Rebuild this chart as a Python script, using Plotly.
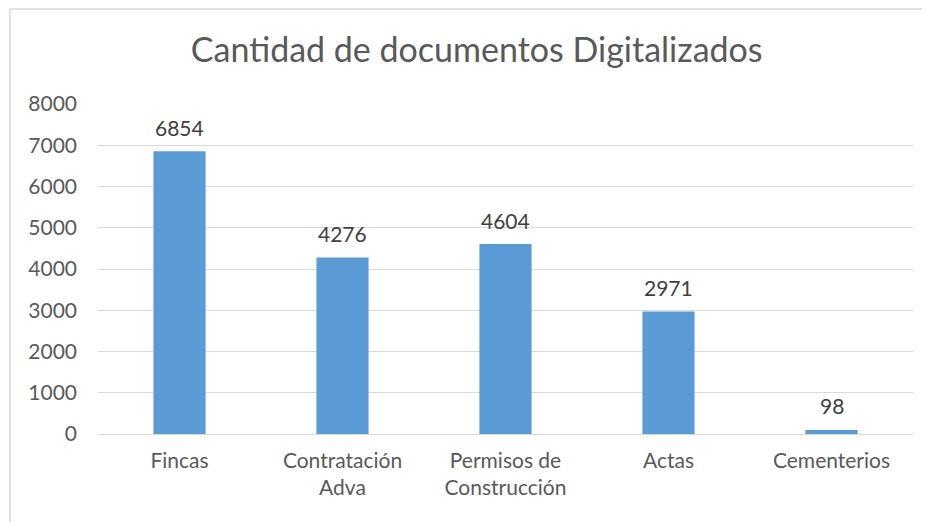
import plotly.graph_objects as go

categories = ["Fincas", "Contratación<br>Adva", "Permisos de<br>Construcción", "Actas", "Cementerios"]
values = [6854, 4276, 4604, 2971, 98]
y_ticks = [0, 1000, 2000, 3000, 4000, 5000, 6000, 7000, 8000]

# page body has an 8px margin, so the figure is drawn offset by (8, 8)
W, H = 930, 522
L, R, T, B = 90, 25, 96, 96
pw, ph = W - L - R, H - T - B

fig = go.Figure(go.Bar(
    x=categories, y=values,
    marker=dict(color="#5b9bd5", line=dict(width=0)),
    hoverinfo="x+y",
))

for c, v in zip(categories, values):
    fig.add_annotation(x=c, y=v, text=str(v), showarrow=False, yanchor="middle",
                       yshift=24, font=dict(size=21, color="#404040", family="Lato"))

bx0 = (2 - L) / pw
bx1 = (W + 40 - L) / pw
by0 = -(H + 40 - T - ph) / ph
by1 = (T + ph - 1) / ph

fig.update_layout(
    width=W, height=H,
    margin=dict(l=L, r=R, t=T, b=B),
    paper_bgcolor="white", plot_bgcolor="white",
    bargap=0.68,
    showlegend=False,
    font=dict(family="Lato", color="#595959", size=21),
    title=dict(text="Cantidad de documentos Digitalizados", x=0.504, xanchor="center",
               y=1 - 42 / H, yanchor="middle",
               font=dict(size=34, color="#595959", family="Lato")),
    xaxis=dict(showgrid=False, showline=False, ticks="", tickfont=dict(size=21),
               ticklabelstandoff=12),
    yaxis=dict(range=[0, 8000], tickvals=y_ticks, showgrid=True, gridcolor="#d9d9d9",
               gridwidth=1, zeroline=True, zerolinecolor="#d9d9d9", zerolinewidth=1,
               ticks="", tickfont=dict(size=21), ticklabelstandoff=20),
    shapes=[
        dict(type="line", xref="paper", yref="paper", x0=bx0, x1=bx1, y0=by1, y1=by1,
             line=dict(color="#d9d9d9", width=1.5), layer="below"),
        dict(type="line", xref="paper", yref="paper", x0=bx0, x1=bx0, y0=by1, y1=by0,
             line=dict(color="#d9d9d9", width=1.5), layer="below"),
    ],
)

fig.write_html("out.html")
